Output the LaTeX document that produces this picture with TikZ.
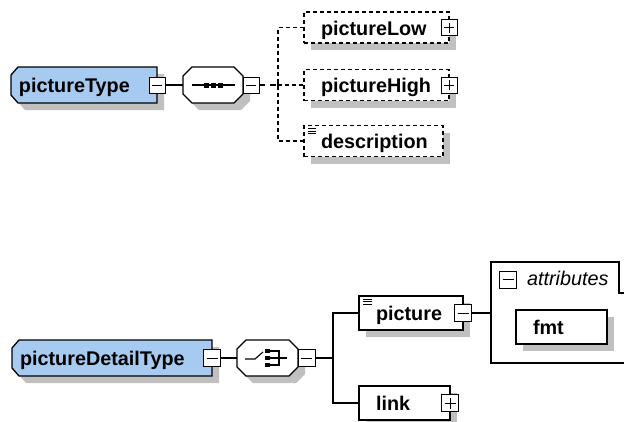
\documentclass[tikz,border=0pt]{standalone}
\usepackage{fontspec}
\setmainfont{Liberation Sans}
\usetikzlibrary{positioning}
\usetikzlibrary{shadows}
\usetikzlibrary{backgrounds}

\definecolor{typeblue}{HTML}{A6CAF0}
\definecolor{shadowgray}{HTML}{C0C0C0}

% outline of a type box (cut corners on the left), shifted by #2,#3
\newcommand{\typepath}[3]{([xshift=#2,yshift=#3]#1.north east) -- ([xshift=#2,yshift=#3]#1.south east)
  -- ([xshift=#2+7pt,yshift=#3]#1.south west) -- ([xshift=#2,yshift=#3+8pt]#1.south west)
  -- ([xshift=#2,yshift=#3-8pt]#1.north west) -- ([xshift=#2+7pt,yshift=#3]#1.north west) -- cycle}
% outline of a compositor (all corners cut), shifted by #2,#3
\newcommand{\octpath}[3]{([xshift=#2+9pt,yshift=#3]#1.north west) -- ([xshift=#2-9pt,yshift=#3]#1.north east)
  -- ([xshift=#2,yshift=#3-9pt]#1.north east) -- ([xshift=#2,yshift=#3+9pt]#1.south east)
  -- ([xshift=#2-9pt,yshift=#3]#1.south east) -- ([xshift=#2+9pt,yshift=#3]#1.south west)
  -- ([xshift=#2,yshift=#3+9pt]#1.south west) -- ([xshift=#2,yshift=#3-9pt]#1.north west) -- cycle}

\begin{document}
\begin{tikzpicture}[x=1pt, y=-1pt,
  every node/.style={outer sep=0pt},
  boxshadow/.style={drop shadow={shadow xshift=7pt, shadow yshift=-7pt, fill=shadowgray, opacity=1}},
  boxfont/.style={font=\fontsize{19.8}{22}\selectfont\bfseries},
  typebox/.style={rectangle, minimum height=36pt, inner xsep=8pt, align=left,
    text height=15pt, text depth=0pt, boxfont},
  compbox/.style={rectangle, minimum width=60pt, minimum height=36pt, inner sep=0pt},
  outline/.style={draw, line width=1.3pt},
  elembox/.style={rectangle, draw, line width=1.3pt, fill=white, boxshadow, minimum height=34pt,
    inner xsep=17pt, align=left, text height=15pt, text depth=0pt, boxfont},
  optbox/.style={elembox, dash pattern=on 4pt off 3pt, minimum height=31pt},
  pmbox/.style={rectangle, draw, fill=white, line width=1pt, minimum size=16pt, inner sep=0pt},
  minusbox/.style={pmbox, path picture={\draw[line width=1pt]
    ([xshift=3pt]path picture bounding box.west) -- ([xshift=-3pt]path picture bounding box.east);}},
  plusbox/.style={pmbox, path picture={\draw[line width=1pt]
    ([xshift=3pt]path picture bounding box.west) -- ([xshift=-3pt]path picture bounding box.east)
    ([yshift=3pt]path picture bounding box.south) -- ([yshift=-3pt]path picture bounding box.north);}},
  conn/.style={line width=1.3pt},
  optconn/.style={conn, dash pattern=on 4pt off 3pt}]

\useasboundingbox (0,0) rectangle (624,421);

% pictureType
\node[typebox, text width=130pt] (ptype) at (84,85) {pictureType};
\node[minusbox] (ptype-m) at (ptype.east) {};
\node[compbox] (seq) at (213,85) {};
\node[minusbox] (seq-m) at ([xshift=8pt]seq.east) {};
\draw[line width=1.2pt] ([xshift=9pt]seq.west) -- ([xshift=-8pt]seq.east);
\foreach \dx in {-7,0,7}
  \fill ([xshift=\dx pt]seq.center) +(-2.5,-2.5) rectangle +(2.5,2.5);

\node[optbox, text width=111pt] (low) at (376.5,27.5) {pictureLow};
\node[plusbox] (low-p) at (low.east) {};
\node[optbox, text width=111pt] (high) at (376.5,85) {pictureHigh};
\node[plusbox] (high-p) at (high.east) {};
\node[optbox, text width=105pt] (desc) at (373.5,141) {description};
\foreach \d in {3,5.5,8}
  \draw[line width=0.8pt] ([xshift=4pt,yshift=-\d pt]desc.north west) -- ++(8,0);

\coordinate (seq-j) at (278,85);
\draw[conn] (ptype-m) -- (seq);
\draw[conn, dash pattern=on 6pt off 5pt] (seq-m) -- (seq-j);
\draw[conn] ([yshift=4pt]seq-j) -- ([yshift=-4pt]seq-j);
\draw[optconn] (low.west) -| (seq-j) |- (desc.west);
\draw[optconn] (seq-j) -- (high.west);

% pictureDetailType
\node[typebox, text width=184pt] (pdtype) at (112,358) {pictureDetailType};
\node[minusbox, minimum size=17pt] (pdtype-m) at (pdtype.east) {};
\node[compbox, minimum width=61pt] (cho) at (267.5,358) {};
\node[minusbox, minimum size=17pt] (cho-m) at ([xshift=8.5pt]cho.east) {};
\draw[line width=1.1pt] ([xshift=-22.5pt,yshift=-1pt]cho.center) -- ++(10,0) -- ++(8,-7);
\foreach \dy in {-7,0,7}
  \fill ([yshift=\dy pt]cho.center) +(-2.2,-2.2) rectangle +(2.2,2.2);
\draw[line width=1.1pt] ([xshift=2.5pt,yshift=7pt]cho.center) -- ++(9,0) -- ++(0,14) -- ++(-9,0);
\draw[line width=1.1pt] ([xshift=2.5pt]cho.center) -- ++(17,0);

\node[elembox, text width=70pt] (pic) at (411,313) {picture};
\node[minusbox, minimum size=17pt] (pic-m) at (pic.east) {};
\foreach \d in {3,5.5,8}
  \draw[line width=0.8pt] ([xshift=4pt,yshift=-\d pt]pic.north west) -- ++(9,0);
\node[elembox, text width=57pt] (link) at (404.5,403) {link};
\node[plusbox, minimum size=17pt] (link-p) at (link.east) {};

\coordinate (cho-j) at (333,358);
\draw[conn] (pdtype-m) -- (cho);
\draw[conn] (cho-m) -- (cho-j);
\draw[conn] (pic.west) -| (cho-j) |- (link.west);

% attributes
\draw[line width=1.3pt] (624,293) -- (619,293) -- (619,262) -- (491,262) -- (491,363) -- (624,363);
\coordinate (attr) at (491,313);
\draw[conn] (pic-m) -- (attr);
\node[minusbox, minimum size=17pt] (attr-m) at (508,279.5) {};
\node[anchor=base west, inner sep=0pt, font=\fontsize{19.8}{22}\selectfont\itshape] (attr-label) at (527,285) {attributes};
\node[elembox, text width=57pt] (fmt) at (561.5,327) {fmt};

% type and compositor outlines, behind the texts
\begin{scope}[on background layer]
  \fill[white] (0,0) rectangle (624,421);
  \foreach \n in {ptype,pdtype} {
    \fill[shadowgray] \typepath{\n}{7pt}{-7pt};
    \path[outline, fill=typeblue] \typepath{\n}{0pt}{0pt};
  }
  \foreach \n in {seq,cho} {
    \fill[shadowgray] \octpath{\n}{7pt}{-7pt};
    \path[outline, fill=white] \octpath{\n}{0pt}{0pt};
  }
\end{scope}

\end{tikzpicture}
\end{document}
